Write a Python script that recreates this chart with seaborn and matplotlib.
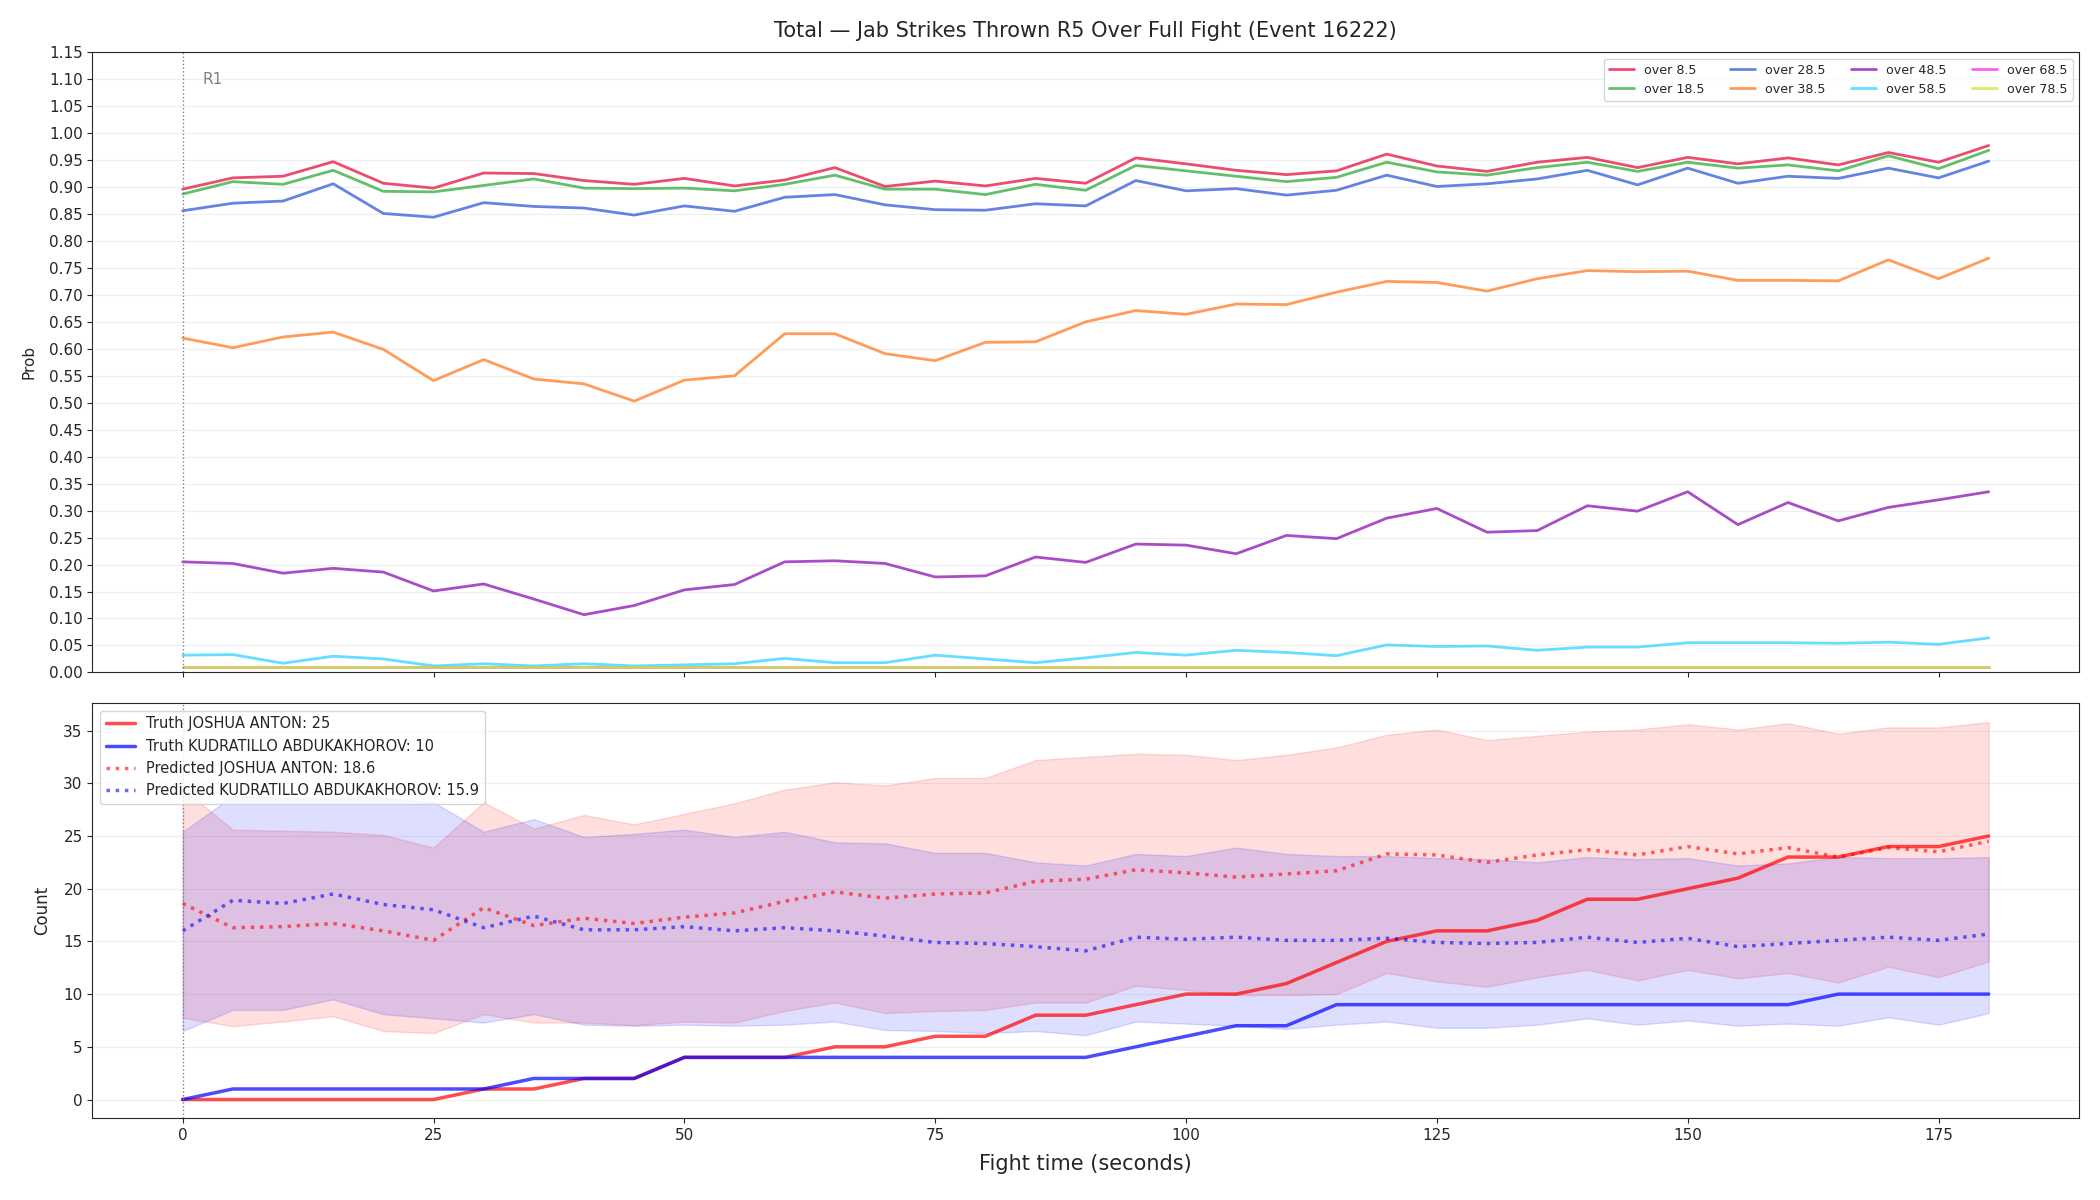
import numpy as np
import pandas as pd
import seaborn as sns
import matplotlib
matplotlib.use("Agg")
import matplotlib.pyplot as plt

# ---------------------------------------------
# data (5 s steps, 0..180)
# ---------------------------------------------
fight_time = [0, 5, 10, 15, 20, 25, 30, 35, 40, 45, 50, 55, 60, 65, 70, 75, 80, 85, 90,
              95, 100, 105, 110, 115, 120, 125, 130, 135, 140, 145, 150, 155, 160, 165,
              170, 175, 180]

over_8_5 = [0.896, 0.917, 0.920, 0.947, 0.907, 0.898, 0.926, 0.925, 0.912, 0.905, 0.916,
            0.902, 0.913, 0.936, 0.901, 0.911, 0.902, 0.916, 0.907, 0.954, 0.943, 0.931,
            0.923, 0.930, 0.961, 0.939, 0.929, 0.946, 0.955, 0.936, 0.955, 0.943, 0.954,
            0.941, 0.964, 0.946, 0.977]
over_18_5 = [0.887, 0.910, 0.905, 0.931, 0.892, 0.891, 0.903, 0.915, 0.898, 0.897, 0.898,
             0.893, 0.905, 0.922, 0.896, 0.896, 0.886, 0.905, 0.894, 0.940, 0.930, 0.920,
             0.910, 0.918, 0.946, 0.928, 0.922, 0.936, 0.946, 0.929, 0.946, 0.935, 0.941,
             0.930, 0.958, 0.934, 0.968]
over_28_5 = [0.856, 0.870, 0.874, 0.906, 0.851, 0.844, 0.871, 0.864, 0.861, 0.848, 0.865,
             0.855, 0.881, 0.886, 0.867, 0.858, 0.857, 0.869, 0.865, 0.912, 0.893, 0.897,
             0.885, 0.894, 0.922, 0.901, 0.906, 0.915, 0.931, 0.904, 0.935, 0.907, 0.920,
             0.916, 0.935, 0.917, 0.948]
over_38_5 = [0.620, 0.602, 0.622, 0.631, 0.599, 0.541, 0.580, 0.544, 0.535, 0.503, 0.542,
             0.550, 0.628, 0.628, 0.591, 0.578, 0.612, 0.613, 0.650, 0.671, 0.664, 0.683,
             0.682, 0.705, 0.725, 0.723, 0.707, 0.730, 0.745, 0.743, 0.744, 0.727, 0.727,
             0.726, 0.765, 0.730, 0.768]
over_48_5 = [0.205, 0.202, 0.184, 0.193, 0.186, 0.151, 0.164, 0.136, 0.107, 0.124, 0.153,
             0.163, 0.205, 0.207, 0.202, 0.177, 0.179, 0.214, 0.204, 0.238, 0.236, 0.220,
             0.254, 0.248, 0.286, 0.304, 0.260, 0.263, 0.309, 0.299, 0.335, 0.274, 0.315,
             0.281, 0.306, 0.320, 0.335]
over_58_5 = [0.032, 0.033, 0.017, 0.030, 0.025, 0.012, 0.016, 0.012, 0.016, 0.012, 0.014,
             0.016, 0.026, 0.018, 0.018, 0.032, 0.025, 0.018, 0.027, 0.037, 0.032, 0.041,
             0.037, 0.031, 0.051, 0.048, 0.049, 0.041, 0.047, 0.047, 0.055, 0.055, 0.055,
             0.054, 0.056, 0.052, 0.064]
over_68_5 = [0.010, 0.010, 0.010, 0.010, 0.010, 0.010, 0.010, 0.010, 0.010, 0.010, 0.010,
             0.010, 0.010, 0.010, 0.010, 0.010, 0.010, 0.010, 0.010, 0.010, 0.010, 0.010,
             0.010, 0.010, 0.010, 0.010, 0.010, 0.010, 0.010, 0.010, 0.010, 0.010, 0.010,
             0.010, 0.010, 0.010, 0.010]
over_78_5 = [0.010, 0.010, 0.010, 0.010, 0.010, 0.010, 0.010, 0.010, 0.010, 0.010, 0.010,
             0.010, 0.010, 0.010, 0.010, 0.010, 0.010, 0.010, 0.010, 0.010, 0.010, 0.010,
             0.010, 0.010, 0.010, 0.010, 0.010, 0.010, 0.010, 0.010, 0.010, 0.010, 0.010,
             0.010, 0.010, 0.010, 0.010]

line_labels = ['over 8.5', 'over 18.5', 'over 28.5', 'over 38.5',
               'over 48.5', 'over 58.5', 'over 68.5', 'over 78.5']
line_colors = ['#e8204a', '#3cb043', '#3f64dc', '#ff8330',
               '#9421b8', '#3fd6ff', '#ff33ee', '#c8ec3c']

truth_anton = [0, 0, 0, 0, 0, 0, 1, 1, 2, 2, 4, 4, 4, 5, 5, 6, 6, 8, 8, 9, 10, 10, 11, 13,
               15, 16, 16, 17, 19, 19, 20, 21, 23, 23, 24, 24, 25]
truth_abdu = [0, 1, 1, 1, 1, 1, 1, 2, 2, 2, 4, 4, 4, 4, 4, 4, 4, 4, 4, 5, 6, 7, 7, 9, 9, 9,
              9, 9, 9, 9, 9, 9, 9, 10, 10, 10, 10]
pred_anton = [18.6, 16.3, 16.4, 16.7, 16.0, 15.1, 18.2, 16.5, 17.2, 16.7, 17.3, 17.7, 18.8,
              19.7, 19.1, 19.5, 19.6, 20.7, 20.9, 21.8, 21.5, 21.1, 21.4, 21.7, 23.3, 23.2,
              22.5, 23.2, 23.7, 23.2, 24.0, 23.3, 23.9, 23.0, 23.9, 23.5, 24.5]
pred_abdu = [16.0, 18.9, 18.6, 19.5, 18.5, 18.0, 16.3, 17.4, 16.1, 16.1, 16.4, 16.0, 16.3,
             16.0, 15.5, 14.9, 14.8, 14.5, 14.1, 15.4, 15.2, 15.4, 15.1, 15.1, 15.3, 14.9,
             14.8, 14.9, 15.4, 14.9, 15.3, 14.5, 14.8, 15.1, 15.4, 15.1, 15.7]
anton_hi = [29.5, 25.6, 25.5, 25.4, 25.1, 23.9, 28.2, 25.7, 27.0, 26.1, 27.1, 28.1, 29.4,
            30.1, 29.8, 30.5, 30.5, 32.2, 32.5, 32.8, 32.7, 32.2, 32.7, 33.4, 34.6, 35.1,
            34.1, 34.5, 34.9, 35.1, 35.6, 35.1, 35.7, 34.7, 35.3, 35.3, 35.8]
anton_lo = [7.75, 6.96, 7.4, 7.9, 6.5, 6.3, 8.1, 7.3, 7.3, 7.05, 7.4, 7.3, 8.4, 9.2, 8.2,
            8.4, 8.5, 9.2, 9.2, 10.8, 10.4, 9.9, 9.9, 10.0, 12.0, 11.2, 10.7, 11.6, 12.3,
            11.3, 12.3, 11.5, 12.0, 11.1, 12.6, 11.6, 13.1]
abdu_hi = [25.4, 28.8, 28.6, 28.6, 28.6, 28.2, 25.4, 26.6, 24.9, 25.2, 25.6, 24.9, 25.4,
           24.4, 24.3, 23.4, 23.4, 22.5, 22.2, 23.3, 23.1, 23.9, 23.3, 23.1, 23.1, 22.9,
           22.8, 22.5, 23.0, 22.8, 22.9, 22.2, 22.4, 23.0, 22.9, 22.9, 23.0]
abdu_lo = [6.5, 8.5, 8.5, 9.5, 8.1, 7.7, 7.3, 8.1, 7.1, 7.0, 7.1, 7.0, 7.1, 7.4, 6.6, 6.5,
           6.3, 6.5, 6.1, 7.4, 7.2, 7.0, 6.7, 7.1, 7.4, 6.8, 6.8, 7.1, 7.7, 7.1, 7.5, 7.0,
           7.2, 7.0, 7.8, 7.1, 8.2]

probs = pd.DataFrame({'t': fight_time, 'over 8.5': over_8_5, 'over 18.5': over_18_5,
                      'over 28.5': over_28_5, 'over 38.5': over_38_5,
                      'over 48.5': over_48_5, 'over 58.5': over_58_5,
                      'over 68.5': over_68_5, 'over 78.5': over_78_5})

# ---------------------------------------------
# figure
# ---------------------------------------------
sns.set_style("ticks")
plt.rcParams['font.family'] = ['DejaVu Sans']

fig, (ax1, ax2) = plt.subplots(2, 1, figsize=(21, 12), dpi=100, sharex=True,
                               gridspec_kw={'height_ratios': [1.494, 1], 'hspace': 0.0596})
fig.subplots_adjust(left=0.044, right=0.990, top=0.9565, bottom=0.068)

# top: probability ladder
for lab, col in zip(line_labels, line_colors):
    sns.lineplot(data=probs, x='t', y=lab, ax=ax1, color=col, alpha=0.8,
                 linewidth=2, label=lab)

ax1.axvline(0, color='gray', linestyle=':', linewidth=1)
ax1.text(2, 1.10, 'R1', color='gray', fontsize=11, va='center', ha='left')
ax1.set_ylim(0, 1.15)
ax1.set_yticks(np.arange(0, 1.151, 0.05))
ax1.set_yticklabels([f'{v:.2f}' for v in np.arange(0, 1.151, 0.05)], fontsize=11)
ax1.set_ylabel('Prob', fontsize=11, labelpad=9)
ax1.set_xlabel('')
ax1.grid(axis='y', alpha=0.3)
ax1.set_title('Total — Jab Strikes Thrown R5 Over Full Fight (Event 16222)', fontsize=15,
              pad=11)
ax1.legend(loc='upper right', ncol=4, fontsize=9.1, columnspacing=2.0)

# bottom: counts
ax2.fill_between(fight_time, anton_lo, anton_hi, color='red', alpha=0.13)
ax2.fill_between(fight_time, abdu_lo, abdu_hi, color='blue', alpha=0.13)
sns.lineplot(x=fight_time, y=truth_anton, ax=ax2, color='red', alpha=0.7, linewidth=2.5,
             label='Truth JOSHUA ANTON: 25')
sns.lineplot(x=fight_time, y=truth_abdu, ax=ax2, color='blue', alpha=0.7, linewidth=2.5,
             label='Truth KUDRATILLO ABDUKAKHOROV: 10')
sns.lineplot(x=fight_time, y=pred_anton, ax=ax2, color='red', alpha=0.6, linewidth=2.5,
             linestyle=':', label='Predicted JOSHUA ANTON: 18.6')
sns.lineplot(x=fight_time, y=pred_abdu, ax=ax2, color='blue', alpha=0.6, linewidth=2.5,
             linestyle=':', label='Predicted KUDRATILLO ABDUKAKHOROV: 15.9')
ax2.axvline(0, color='gray', linestyle=':', linewidth=1)
ax2.set_ylabel('Count', fontsize=12, labelpad=9)
ax2.set_xlabel('Fight time (seconds)', fontsize=15, labelpad=8)
ax2.tick_params(labelsize=11)
ax2.grid(axis='y', alpha=0.3)
ax2.legend(loc='upper left', fontsize=10.5)

plt.savefig('out.png', dpi=100)
